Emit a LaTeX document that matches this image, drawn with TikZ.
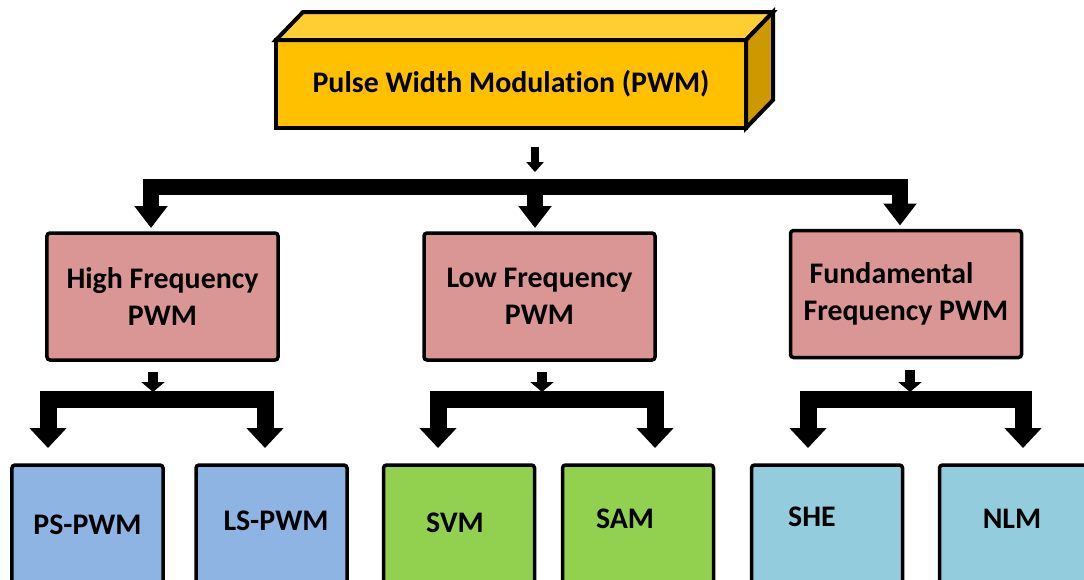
\documentclass[tikz,border=0pt]{standalone}
\usepackage{fontspec}
\setmainfont[Ligatures=NoCommon]{Carlito}
\definecolor{pwmgold}{RGB}{255, 192, 0}
\definecolor{pwmgoldtop}{RGB}{255, 206, 51}
\definecolor{pwmgoldside}{RGB}{204, 154, 0}
\definecolor{freqpink}{RGB}{218, 150, 148}
\definecolor{hfblue}{RGB}{142, 180, 227}
\definecolor{lfgreen}{RGB}{146, 208, 80}
\definecolor{ffcyan}{RGB}{147, 205, 221}
\usetikzlibrary{arrows.meta}

\begin{document}
\begin{tikzpicture}[x=0.2mm, y=-0.2mm, line join=miter,
  every node/.style={font=\fontsize{17}{21}\selectfont\bfseries, outer sep=0pt},
  freqbox/.style={draw, line width=0.7mm, fill=freqpink, rounded corners=0.6mm,
    minimum width=46.2mm, minimum height=25.4mm, align=center, inner sep=0pt},
  leafbox/.style={draw, line width=0.7mm, rounded corners=0.6mm,
    minimum width=30.2mm, minimum height=24mm, inner sep=0pt},
  topstub/.style={line width=1.6mm, -{Triangle[width=3.4mm, length=2mm]},
    shorten <=3.8mm, shorten >=3mm},
  topfork/.style={line width=3.2mm, {Triangle[width=6.4mm, length=4.4mm]}-{Triangle[width=6.4mm, length=4.4mm]},
    shorten <=1mm, shorten >=1mm},
  topdrop/.style={line width=3.2mm, -{Triangle[width=6.4mm, length=4.4mm]}, shorten >=1mm},
  stub/.style={line width=2mm, -{Triangle[width=4.6mm, length=2mm]},
    shorten <=2.4mm, shorten >=1.4mm},
  fork/.style={line width=3.4mm, {Triangle[width=7.2mm, length=4mm]}-{Triangle[width=7.2mm, length=4mm]},
    shorten <=3.4mm, shorten >=3.4mm}
]
  \path[use as bounding box, clip] (0,0) rectangle (1084,579);

  % Top block (3D bar)
  \node[draw, line width=0.8mm, fill=pwmgold, minimum width=94mm, minimum height=17.6mm,
    inner sep=0pt] (pwm) at (511,84) {Pulse Width Modulation (PWM)};
  \draw[line width=0.8mm, fill=pwmgoldtop] (pwm.north west) -- ++(27,-28)
    -- ([shift={(27,-28)}]pwm.north east) -- (pwm.north east) -- cycle;
  \draw[line width=0.8mm, fill=pwmgoldside] (pwm.north east) -- ++(27,-28)
    -- ([shift={(27,-28)}]pwm.south east) -- (pwm.south east) -- cycle;

  % Frequency classes
  \node[freqbox] (hf) at (162.5,296.5) {High Frequency\\PWM};
  \node[freqbox] (lf) at (539.5,296.5) {Low Frequency\\PWM};
  \node[freqbox, align=left] (ff) at (906,294) {\hspace*{1.2mm}Fundamental\\Frequency PWM};

  % Methods
  \node[leafbox, fill=hfblue, label={center:PS-PWM}] (ps) at (87.5,525) {};
  \node[leafbox, fill=hfblue, label={[xshift=0.9mm, yshift=0.8mm]center:LS-PWM}] (ls) at (271.5,525) {};
  \node[leafbox, fill=lfgreen, label={[xshift=-0.8mm, yshift=0.4mm]center:SVM}] (svm) at (459,525) {};
  \node[leafbox, fill=lfgreen, label={[xshift=-2.6mm, yshift=1.2mm]center:SAM}] (sam) at (638,525) {};
  \node[leafbox, fill=ffcyan, label={[xshift=-3mm, yshift=1.6mm]center:SHE}] (she) at (827,525) {};
  \node[leafbox, fill=ffcyan, label={[xshift=-0.6mm, yshift=1.2mm]center:NLM}] (nlm) at (1015,525) {};

  % Junction points
  \coordinate (topM) at (535,187);
  \coordinate (topL) at (151,187);
  \coordinate (topR) at (900,187);
  \coordinate (hfJ) at (153,399);
  \coordinate (hfL) at (48,399);
  \coordinate (hfR) at (265,399);
  \coordinate (lfJ) at (542,399);
  \coordinate (lfL) at (438,399);
  \coordinate (lfR) at (655,399);
  \coordinate (ffJ) at (910,399);
  \coordinate (ffL) at (808,399);
  \coordinate (ffR) at (1023,399);

  % Connectors
  \draw[topstub] (pwm.south -| topM) -- (topM);
  \draw[topfork] (hf.north -| topL) -- (topL) -- (topR) -- (ff.north -| topR);
  \draw[topdrop] (topM) -- (lf.north -| topM);

  \draw[stub] (hf.south -| hfJ) -- (hfJ);
  \draw[fork] (ps.north -| hfL) -- (hfL) -- (hfR) -- (ls.north -| hfR);
  \draw[stub] (lf.south -| lfJ) -- (lfJ);
  \draw[fork] (svm.north -| lfL) -- (lfL) -- (lfR) -- (sam.north -| lfR);
  \draw[stub] (ff.south -| ffJ) -- (ffJ);
  \draw[fork] (she.north -| ffL) -- (ffL) -- (ffR) -- (nlm.north -| ffR);
\end{tikzpicture}
\end{document}
